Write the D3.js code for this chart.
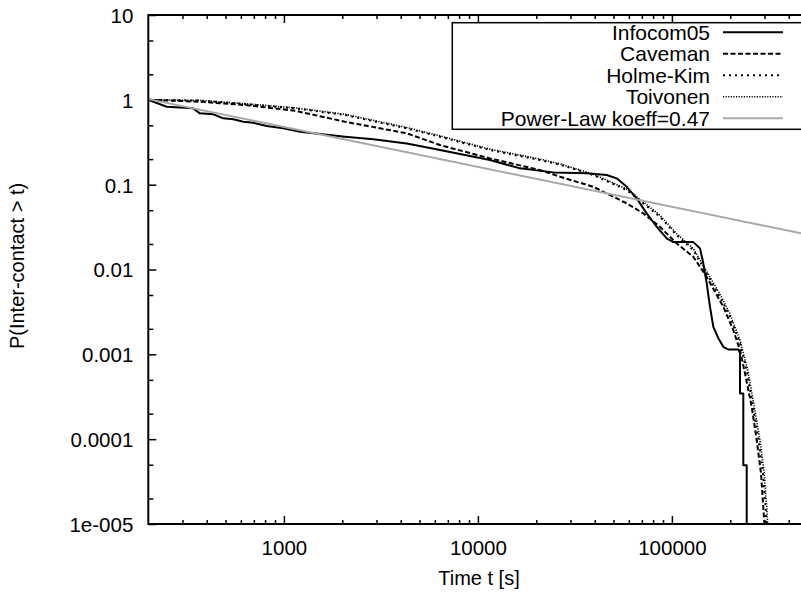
<!DOCTYPE html>
<html>
<head>
<meta charset="utf-8">
<script src="https://cdn.jsdelivr.net/npm/d3@7"></script>
<style>
  body { margin: 0; background: #fff; }
  text { font-family: "Liberation Sans", Arial, Helvetica, sans-serif; fill: #000; }
</style>
</head>
<body>
<svg id="chart" width="801" height="592"></svg>
<script>
// Inter-contact time distributions (CCDF), time in seconds
const infocomTime = [200, 249, 341, 369, 433, 487, 548, 618, 695, 815, 993, 1211, 2065, 2890, 4296, 5665,
  11540, 16480, 24480, 36380, 46120, 51930, 58500, 65850, 74150, 83500, 94020, 101700, 129000, 139600,
  145100, 151100, 157200, 163500, 173500, 184100, 194500, 219900, 224400, 224400, 233400, 233400, 243000, 243000];
const infocomP = [1.0, 0.829, 0.794, 0.693, 0.675, 0.605, 0.589, 0.552, 0.537, 0.491, 0.461, 0.421, 0.367, 0.342, 0.305, 0.271,
  0.195, 0.1557, 0.1396, 0.1359, 0.130, 0.1187, 0.0944, 0.0689, 0.0459, 0.0319, 0.02326, 0.02103, 0.02103, 0.01774,
  0.0119, 0.00691, 0.00363, 0.00211, 0.00155, 0.001226, 0.001142, 0.001142, 0.001033, 0.000346, 0.000346, 0.0000493, 0.0000493, 0.000005];

const cavemanTime = [200, 369, 630, 1141, 2065, 4296, 6376, 11540, 20900, 26500, 39300, 58500, 71200, 86800,
  105800, 129000, 151100, 184100, 207200, 224400, 238200, 257900, 273600, 288000, 295800, 300200];
const cavemanP = [1.0, 0.950, 0.868, 0.744, 0.552, 0.403, 0.293, 0.204, 0.1486, 0.124, 0.0944, 0.0602, 0.0459, 0.0319,
  0.0203, 0.0141, 0.0082, 0.00363, 0.00193, 0.00112, 0.000596, 0.00024, 0.0000973, 0.0000394, 0.0000159, 0.0000097];

const holmeKimTime = [200, 369, 630, 1141, 2065, 4296, 6376, 11540, 20900, 26500, 39300, 58500, 71200, 86800,
  105800, 129000, 151100, 177000, 199300, 224400, 243000, 261800, 279700, 294800, 303700, 307400];
const holmeKimP = [1.0, 0.981, 0.892, 0.794, 0.662, 0.461, 0.367, 0.256, 0.195, 0.172, 0.130, 0.0864, 0.0602, 0.0418,
  0.0254, 0.0169, 0.0090, 0.00476, 0.00277, 0.00134, 0.000651, 0.00024, 0.0000973, 0.0000394, 0.0000159, 0.0000097];

const toivonenTime = [200, 369, 630, 1141, 2065, 4296, 6376, 11540, 20900, 26500, 39300, 58500, 71200, 86800,
  105800, 129000, 151100, 177000, 199300, 224400, 245000, 265000, 284000, 299000, 308000, 312000];
const toivonenP = [1.0, 0.985, 0.90, 0.805, 0.675, 0.472, 0.376, 0.262, 0.200, 0.176, 0.133, 0.089, 0.0625, 0.0435,
  0.0265, 0.0176, 0.0095, 0.0051, 0.0030, 0.00146, 0.00068, 0.00025, 0.0001, 0.00004, 0.000016, 0.0000097];

// Fitted power law P = scale * t^(-koeff)
const powerLawKoeff = 0.47;
const powerLawScale = 12.3;

const seriesNames = ["Infocom05", "Caveman", "Holme-Kim", "Toivonen", "Power-Law koeff=0.47"];

const xDomain = [200, 500000];
const yDomain = [1e-5, 10];
const xTickValues = [1000, 10000, 100000];
const xTickLabels = ["1000", "10000", "100000"];
const yTickValues = [10, 1, 0.1, 0.01, 0.001, 0.0001, 0.00001];
const yTickLabels = ["10", "1", "0.1", "0.01", "0.001", "0.0001", "1e-005"];

const xLabel = "Time t [s]";
const yLabel = "P(Inter-contact > t)";

// ---- layout ----
const plot = { left: 148.3, right: 807.5, top: 15, bottom: 524 };
const svg = d3.select("#chart");
svg.append("rect").attr("width", 801).attr("height", 592).attr("fill", "#fff");

const x = d3.scaleLog().domain(xDomain).range([plot.left, plot.right]);
const y = d3.scaleLog().domain(yDomain).range([plot.bottom, plot.top]);

const styles = [
  { color: "#000", width: 2, dash: null },
  { color: "#000", width: 2, dash: "5,2.5" },
  { color: "#000", width: 2, dash: "2,4" },
  { color: "#000", width: 1.6, dash: "1.2,1.4" },
  { color: "#a8a8a8", width: 2, dash: null }
];

svg.append("clipPath").attr("id", "plotClip")
  .append("rect")
  .attr("x", plot.left).attr("y", plot.top)
  .attr("width", plot.right - plot.left).attr("height", plot.bottom - plot.top);

// ---- ticks ----
const leading = v => Math.round(v / Math.pow(10, Math.floor(Math.log10(v) + 1e-9)));
const isMajor = v => Math.abs(Math.log10(v) - Math.round(Math.log10(v))) < 1e-9;
const xMinor = x.ticks().filter(v => !isMajor(v) && v > xDomain[0]);
const yMinor = y.ticks().filter(v => !isMajor(v) && (leading(v) === 2 || leading(v) === 5));

const fmtFrom = (vals, labels) => v => labels[vals.findIndex(t => Math.abs(t - v) / v < 1e-6)];

function styleAxis(g) {
  g.select(".domain").remove();
  g.selectAll(".tick line").attr("stroke", "#000").attr("stroke-width", 1.5);
  g.selectAll(".tick text").attr("font-size", 20.5).attr("fill", "#000")
    .attr("font-family", '"Liberation Sans", Arial, sans-serif');
}

// bottom
svg.append("g").attr("transform", `translate(0,${plot.bottom})`)
  .call(d3.axisBottom(x).tickValues(xTickValues).tickFormat(fmtFrom(xTickValues, xTickLabels))
    .tickSizeInner(-8).tickSizeOuter(0).tickPadding(16.5))
  .call(styleAxis);
svg.append("g").attr("transform", `translate(0,${plot.bottom})`)
  .call(d3.axisBottom(x).tickValues(xMinor).tickFormat("").tickSizeInner(-4).tickSizeOuter(0))
  .call(styleAxis);
// top (mirror)
svg.append("g").attr("transform", `translate(0,${plot.top})`)
  .call(d3.axisTop(x).tickValues(xTickValues).tickFormat("").tickSizeInner(-8).tickSizeOuter(0))
  .call(styleAxis);
svg.append("g").attr("transform", `translate(0,${plot.top})`)
  .call(d3.axisTop(x).tickValues(xMinor).tickFormat("").tickSizeInner(-4).tickSizeOuter(0))
  .call(styleAxis);
// left
svg.append("g").attr("transform", `translate(${plot.left},0)`)
  .call(d3.axisLeft(y).tickValues(yTickValues).tickFormat(fmtFrom(yTickValues, yTickLabels))
    .tickSizeInner(-8).tickSizeOuter(0).tickPadding(15))
  .call(styleAxis)
  .call(g => g.selectAll(".tick text").attr("dy", "0.36em"));
svg.append("g").attr("transform", `translate(${plot.left},0)`)
  .call(d3.axisLeft(y).tickValues(yMinor).tickFormat("").tickSizeInner(-5).tickSizeOuter(0))
  .call(styleAxis);

// ---- series ----
const line = d3.line().x(d => x(d[0])).y(d => y(d[1]));
const zipSeries = (ts, ps) => ts.map((t, i) => [t, ps[i]]);

const plotLayer = svg.append("g").attr("clip-path", "url(#plotClip)");

// power law from its two domain ends
const powerLaw = xDomain.map(t => [t, powerLawScale * Math.pow(t, -powerLawKoeff)]);

const series = [
  zipSeries(infocomTime, infocomP),
  zipSeries(cavemanTime, cavemanP),
  zipSeries(holmeKimTime, holmeKimP),
  zipSeries(toivonenTime, toivonenP),
  powerLaw
];

series.forEach((data, i) => {
  const s = styles[i];
  plotLayer.append("path")
    .datum(data)
    .attr("d", line)
    .attr("fill", "none")
    .attr("stroke", s.color)
    .attr("stroke-width", s.width)
    .attr("stroke-linejoin", "round")
    .attr("stroke-dasharray", s.dash);
});

// ---- frame ----
const frame = svg.append("g").attr("stroke", "#000").attr("stroke-width", 2).attr("fill", "none");
frame.append("line").attr("x1", plot.left).attr("x2", plot.left).attr("y1", plot.top - 1).attr("y2", plot.bottom + 1);
frame.append("line").attr("x1", plot.left).attr("x2", plot.right).attr("y1", plot.top).attr("y2", plot.top);
frame.append("line").attr("x1", plot.left).attr("x2", plot.right).attr("y1", plot.bottom).attr("y2", plot.bottom);
frame.append("line").attr("x1", plot.right).attr("x2", plot.right).attr("y1", plot.top).attr("y2", plot.bottom);

// ---- legend ----
const legend = svg.append("g");
legend.append("rect")
  .attr("x", 452.3).attr("y", 22.7).attr("width", 352).attr("height", 106.6)
  .attr("fill", "none").attr("stroke", "#000").attr("stroke-width", 1.5);
seriesNames.forEach((name, i) => {
  const ly = 32.3 + 21.5 * i;
  legend.append("text")
    .attr("x", 710).attr("y", ly).attr("dy", "0.36em")
    .attr("text-anchor", "end").attr("font-size", 21)
    .text(name);
  const s = styles[i];
  legend.append("line")
    .attr("x1", 723).attr("x2", 783).attr("y1", ly).attr("y2", ly)
    .attr("stroke", s.color).attr("stroke-width", s.width)
    .attr("stroke-dasharray", s.dash);
});

// ---- axis titles ----
svg.append("text")
  .attr("x", 479).attr("y", 585)
  .attr("text-anchor", "middle").attr("font-size", 20)
  .text(xLabel);
svg.append("text")
  .attr("transform", "translate(24,266) rotate(-90)")
  .attr("text-anchor", "middle").attr("font-size", 20)
  .text(yLabel);
</script>
</body>
</html>
